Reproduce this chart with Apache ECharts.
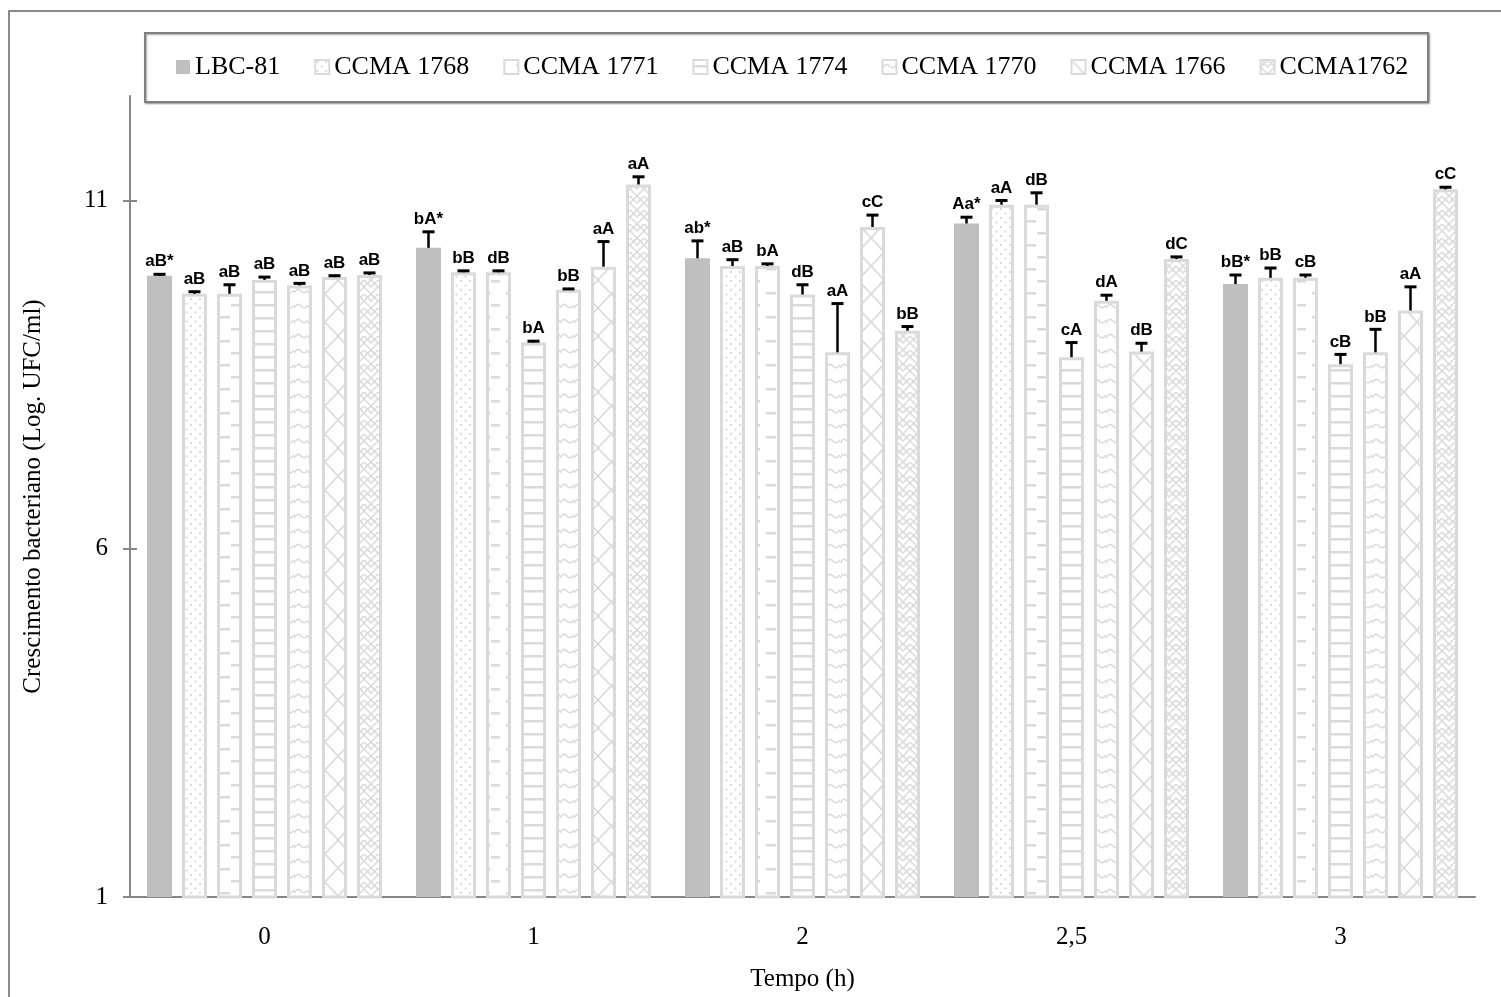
<!DOCTYPE html>
<html>
<head>
<meta charset="utf-8">
<script src="https://cdn.jsdelivr.net/npm/echarts@6/dist/echarts.min.js"></script>
<style>html,body{margin:0;padding:0;background:#fff}#c{width:1501px;height:997px}</style>
</head>
<body>
<div id="c"></div>
<script>
// ---- data ----
var categories = ['0', '1', '2', '2,5', '3'];
var seriesNames = ['LBC-81', 'CCMA 1768', 'CCMA 1771', 'CCMA 1774', 'CCMA 1770', 'CCMA 1766', 'CCMA1762'];
var lbc81     = [9.92, 10.32, 10.17, 10.67, 9.80];
var ccma1768  = [9.66, 9.97, 10.06, 10.94, 9.89];
var ccma1771  = [9.66, 9.97, 10.06, 10.94, 9.89];
var ccma1774  = [9.86, 8.96, 9.65, 8.75, 8.65];
var ccma1770  = [9.78, 9.72, 8.82, 9.56, 8.82];
var ccma1766  = [9.90, 10.05, 10.62, 8.83, 9.42];
var ccma1762  = [9.93, 11.23, 9.13, 10.16, 11.16];
var errLbc81    = [0.02, 0.23, 0.25, 0.09, 0.13];
var err1768     = [0.03, 0.02, 0.09, 0.06, 0.14];
var err1771     = [0.13, 0.02, 0.03, 0.17, 0.04];
var err1774     = [0.04, 0.02, 0.14, 0.21, 0.14];
var err1770     = [0.03, 0.01, 0.70, 0.08, 0.33];
var err1766     = [0.02, 0.36, 0.17, 0.12, 0.34];
var err1762     = [0.03, 0.11, 0.06, 0.03, 0.03];
var lblLbc81 = ['aB*', 'bA*', 'ab*', 'Aa*', 'bB*'];
var lbl1768  = ['aB', 'bB', 'aB', 'aA', 'bB'];
var lbl1771  = ['aB', 'dB', 'bA', 'dB', 'cB'];
var lbl1774  = ['aB', 'bA', 'dB', 'cA', 'cB'];
var lbl1770  = ['aB', 'bB', 'aA', 'dA', 'bB'];
var lbl1766  = ['aB', 'aA', 'cC', 'dB', 'aA'];
var lbl1762  = ['aB', 'aA', 'bB', 'dC', 'cC'];
var yTicks = [1, 6, 11];

var values = [lbc81, ccma1768, ccma1771, ccma1774, ccma1770, ccma1766, ccma1762];
var errors = [errLbc81, err1768, err1771, err1774, err1770, err1766, err1762];
var labels = [lblLbc81, lbl1768, lbl1771, lbl1774, lbl1770, lbl1766, lbl1762];

// ---- patterns ----
var G = '#dadada';
function tile(w, h, draw) {
  var c = document.createElement('canvas');
  c.width = w; c.height = h;
  var x = c.getContext('2d');
  x.fillStyle = '#fff'; x.fillRect(0, 0, w, h);
  x.strokeStyle = G; x.fillStyle = G;
  draw(x);
  return { image: c, repeat: 'repeat' };
}
var pDots = tile(9, 9, function (x) { x.fillRect(1, 1, 2, 2); x.fillRect(5.5, 5.5, 2, 2); });
var pDash = tile(26, 24, function (x) { x.fillRect(12, 4, 10, 2.5); x.fillRect(-3, 16, 9, 2.5); x.fillRect(23, 16, 9, 2.5); });
var pHoriz = tile(13, 13, function (x) { x.fillRect(0, 5, 13, 2.5); });
var pWave = tile(14, 15, function (x) { x.lineWidth = 1.6; x.beginPath(); x.moveTo(0, 8); x.quadraticCurveTo(3.5, 2, 7, 6); x.quadraticCurveTo(10.5, 10, 14, 5); x.stroke(); });
var pCross = tile(26, 28, function (x) { x.lineWidth = 1.6; x.beginPath(); x.moveTo(0, 0); x.lineTo(26, 28); x.moveTo(26, 0); x.lineTo(0, 28); x.stroke(); });
var pWeave = tile(14, 14, function (x) { x.lineWidth = 1.5; x.beginPath(); x.moveTo(0, 0); x.lineTo(7, 7); x.lineTo(14, 0); x.moveTo(0, 7); x.lineTo(7, 14); x.lineTo(14, 7); x.moveTo(7, 0); x.lineTo(14, 7); x.moveTo(0, 7); x.lineTo(7, 0); x.stroke(); });
var fills = ['#bfbfbf', pDots, pDash, pHoriz, pWave, pCross, pWeave];

var BW = 25, GAP = 10;
var series = [];
seriesNames.forEach(function (n, i) {
  series.push({
    name: n, type: 'bar', data: values[i],
    barWidth: BW, barGap: (GAP / BW * 100) + '%', barCategoryGap: '10%',
    itemStyle: {
      color: fills[i],
      borderColor: i === 0 ? '#bfbfbf' : G,
      borderWidth: i === 0 ? 0 : 3
    }
  });
});

var errData = [], errLabels = [];
for (var s = 0; s < values.length; s++) {
  for (var k = 0; k < categories.length; k++) {
    errData.push([k, values[s][k], errors[s][k], s]);
    errLabels.push(labels[s][k]);
  }
}
series.push({
  type: 'custom', name: 'err', z: 10, silent: true,
  data: errData,
  encode: { x: 0, y: 1 },
  renderItem: function (params, api) {
    var ci = api.value(0), v = api.value(1), e = api.value(2), si = api.value(3);
    var off = -((7 * BW + 6 * GAP) / 2) + BW / 2 + si * (BW + GAP);
    var p0 = api.coord([ci, v]);
    var p1 = api.coord([ci, v + e]);
    var x = p0[0] + off;
    var topY = p1[1];
    return {
      type: 'group', children: [
        { type: 'line', shape: { x1: x, y1: p0[1], x2: x, y2: topY }, style: { stroke: '#000', lineWidth: 2.5 } },
        { type: 'line', shape: { x1: x - 6, y1: topY, x2: x + 6, y2: topY }, style: { stroke: '#000', lineWidth: 3 } },
        { type: 'text', x: x, y: topY - 4, style: { text: errLabels[params.dataIndex], textAlign: 'center', textVerticalAlign: 'bottom', font: 'bold 17px "Liberation Sans", Arial, sans-serif', fill: '#000' } }
      ]
    };
  }
});

var chart = echarts.init(document.getElementById('c'), null, { renderer: 'canvas' });
chart.setOption({
  animation: false,
  backgroundColor: '#fff',
  graphic: [
    { type: 'rect', shape: { x: 9, y: 11, width: 1500, height: 1000 }, style: { fill: 'none', stroke: '#898989', lineWidth: 2 }, z: -1 },
    { type: 'rect', shape: { x: 145, y: 33, width: 1283, height: 69 }, style: { fill: '#fff', stroke: '#7f7f7f', lineWidth: 2, shadowColor: 'rgba(0,0,0,0.35)', shadowOffsetX: 1, shadowOffsetY: 1, shadowBlur: 2 }, z: -1 }
  ],
  legend: {
    data: seriesNames,
    left: 176, top: 54, padding: 0, itemGap: 34,
    itemWidth: 14, itemHeight: 14, icon: 'rect',
    textStyle: { fontFamily: 'Liberation Serif', fontSize: 26, color: '#000' }
  },
  grid: { left: 130, right: 26, top: 96, bottom: 99 },
  xAxis: {
    type: 'category', data: categories,
    axisLine: { lineStyle: { color: '#868686', width: 2 } },
    axisTick: { show: false },
    axisLabel: { fontFamily: 'Liberation Serif', fontSize: 25, color: '#000', margin: 28 },
    name: 'Tempo (h)', nameLocation: 'middle', nameGap: 70,
    nameTextStyle: { fontFamily: 'Liberation Serif', fontSize: 25, color: '#000' }
  },
  yAxis: [{
    type: 'value', min: 1, max: 12.5, interval: 5,
    axisLine: { show: true, lineStyle: { color: '#868686', width: 2 } },
    axisTick: { show: true, length: 7, customValues: yTicks, lineStyle: { color: '#868686', width: 2 } },
    axisLabel: { customValues: yTicks, fontFamily: 'Liberation Serif', fontSize: 25, color: '#000', margin: 22 },
    splitLine: { show: false },
    name: 'Crescimento bacteriano (Log. UFC/ml)', nameLocation: 'middle', nameGap: 84, nameRotate: 90,
    nameTextStyle: { fontFamily: 'Liberation Serif', fontSize: 25, color: '#000' }
  }, {
    type: 'value', min: 1, max: 12.5, interval: 5, position: 'left',
    axisLine: { show: false },
    axisTick: { show: true, inside: true, length: 7, customValues: yTicks, lineStyle: { color: '#868686', width: 2 } },
    axisLabel: { show: false },
    splitLine: { show: false }
  }],
  series: series
});
</script>
</body>
</html>
